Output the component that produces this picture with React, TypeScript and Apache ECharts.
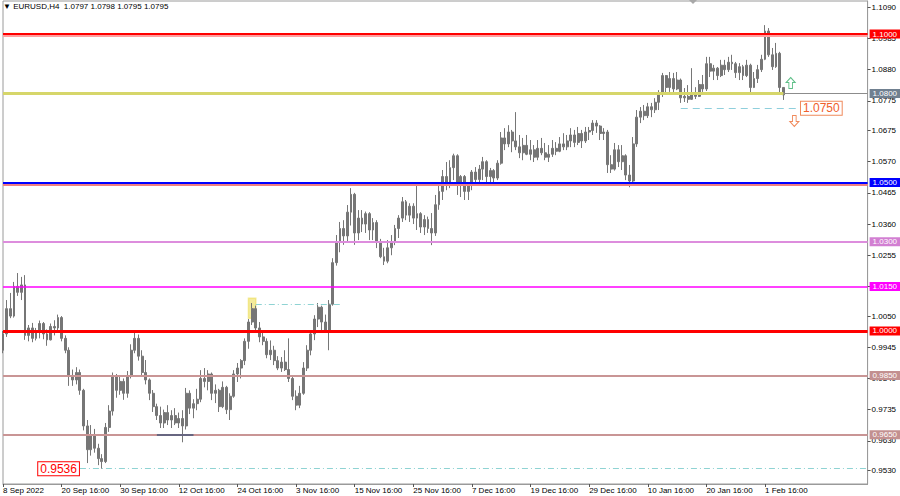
import React, { useEffect, useRef } from 'react';
import * as echarts from 'echarts';

// ---------- data ----------
const chartTitle = '\u25BC EURUSD,H4  1.0797 1.0798 1.0795 1.0795';

// x-axis tick labels, one every 16 half-day bars
const xTickLabels = [
  '8 Sep 2022', '20 Sep 16:00', '30 Sep 16:00', '12 Oct 16:00', '24 Oct 16:00',
  '3 Nov 16:00', '15 Nov 16:00', '25 Nov 16:00', '7 Dec 16:00', '19 Dec 16:00',
  '29 Dec 16:00', '10 Jan 16:00', '20 Jan 16:00', '1 Feb 16:00',
];
const barsPerTick = 16;
const slotCount = 237; // bar slots on the axis (incl. empty space on the right)

// right price-scale labels
const yTickValues = [
  1.109, 1.0985, 1.088, 1.0775, 1.0675, 1.057, 1.0465, 1.036, 1.0255,
  1.015, 1.005, 0.9945, 0.984, 0.9735, 0.963, 0.953,
];

// [open, close, low, high]
const bars: number[][] = [
  [0.9935, 0.9990, 0.9925, 1.0000], [0.9990, 1.0075, 0.9980, 1.0104], [1.0075, 1.0050, 1.0043, 1.0128],
  [1.0050, 1.0150, 1.0045, 1.0165], [1.0150, 1.0130, 1.0118, 1.0195], [1.0130, 1.0155, 1.0104, 1.0182],
  [1.0155, 0.9985, 0.9970, 1.0188], [0.9985, 1.0010, 0.9965, 1.0020], [1.0010, 0.9975, 0.9962, 1.0027],
  [0.9975, 0.9995, 0.9968, 1.0010], [0.9995, 1.0025, 0.9975, 1.0035], [1.0025, 0.9990, 0.9972, 1.0030],
  [0.9990, 0.9970, 0.9950, 1.0005], [0.9970, 1.0015, 0.9968, 1.0025], [1.0015, 1.0010, 0.9985, 1.0036],
  [1.0010, 1.0045, 0.9995, 1.0055], [1.0045, 0.9975, 0.9965, 1.0050], [0.9975, 0.9935, 0.9925, 0.9985],
  [0.9935, 0.9850, 0.9815, 0.9945], [0.9850, 0.9835, 0.9815, 0.9870], [0.9835, 0.9860, 0.9820, 0.9878],
  [0.9860, 0.9800, 0.9785, 0.9870], [0.9800, 0.9680, 0.9665, 0.9805], [0.9680, 0.9600, 0.9555, 0.9700],
  [0.9600, 0.9650, 0.9580, 0.9683], [0.9650, 0.9605, 0.9590, 0.9670], [0.9605, 0.9570, 0.9548, 0.9620],
  [0.9570, 0.9560, 0.9536, 0.9585], [0.9560, 0.9675, 0.9555, 0.9690], [0.9675, 0.9730, 0.9660, 0.9750],
  [0.9730, 0.9845, 0.9715, 0.9860], [0.9845, 0.9800, 0.9775, 0.9855], [0.9800, 0.9830, 0.9785, 0.9850],
  [0.9830, 0.9790, 0.9768, 0.9840], [0.9790, 0.9850, 0.9775, 0.9865], [0.9850, 0.9935, 0.9840, 0.9955],
  [0.9935, 0.9975, 0.9925, 1.0000], [0.9975, 0.9915, 0.9900, 0.9988], [0.9915, 0.9860, 0.9845, 0.9935],
  [0.9860, 0.9835, 0.9820, 0.9902], [0.9835, 0.9790, 0.9767, 0.9840], [0.9790, 0.9745, 0.9727, 0.9801],
  [0.9745, 0.9715, 0.9700, 0.9755], [0.9715, 0.9690, 0.9673, 0.9745], [0.9690, 0.9725, 0.9673, 0.9735],
  [0.9725, 0.9700, 0.9683, 0.9750], [0.9700, 0.9715, 0.9673, 0.9733], [0.9715, 0.9690, 0.9683, 0.9740],
  [0.9690, 0.9705, 0.9673, 0.9725], [0.9705, 0.9680, 0.9625, 0.9733], [0.9680, 0.9790, 0.9668, 0.9808],
  [0.9790, 0.9740, 0.9720, 0.9800], [0.9740, 0.9755, 0.9706, 0.9770], [0.9755, 0.9770, 0.9733, 0.9805],
  [0.9770, 0.9840, 0.9760, 0.9868], [0.9840, 0.9830, 0.9810, 0.9875], [0.9830, 0.9855, 0.9800, 0.9868],
  [0.9855, 0.9790, 0.9767, 0.9860], [0.9790, 0.9800, 0.9757, 0.9820], [0.9800, 0.9745, 0.9727, 0.9805],
  [0.9745, 0.9810, 0.9740, 0.9830], [0.9810, 0.9735, 0.9720, 0.9815], [0.9735, 0.9780, 0.9700, 0.9790],
  [0.9780, 0.9855, 0.9775, 0.9868], [0.9855, 0.9875, 0.9828, 0.9892], [0.9875, 0.9900, 0.9840, 0.9905],
  [0.9900, 0.9965, 0.9885, 0.9975], [0.9965, 1.0030, 0.9940, 1.0040], [1.0030, 1.0075, 1.0020, 1.0094],
  [1.0075, 1.0010, 0.9995, 1.0085], [1.0010, 0.9980, 0.9962, 1.0030], [0.9980, 0.9965, 0.9952, 0.9995],
  [0.9965, 0.9920, 0.9908, 0.9975], [0.9920, 0.9935, 0.9902, 0.9968], [0.9935, 0.9900, 0.9885, 0.9950],
  [0.9900, 0.9875, 0.9868, 0.9915], [0.9875, 0.9895, 0.9862, 0.9912], [0.9895, 0.9870, 0.9865, 0.9935],
  [0.9870, 0.9840, 0.9828, 0.9975], [0.9840, 0.9780, 0.9767, 0.9845], [0.9780, 0.9750, 0.9733, 0.9800],
  [0.9750, 0.9790, 0.9740, 0.9815], [0.9790, 0.9875, 0.9785, 0.9895], [0.9875, 0.9935, 0.9865, 0.9952],
  [0.9935, 0.9990, 0.9918, 1.0003], [0.9990, 1.0040, 0.9969, 1.0053], [1.0040, 1.0080, 1.0013, 1.0094],
  [1.0080, 1.0030, 1.0003, 1.0085], [1.0030, 1.0000, 0.9995, 1.0055], [1.0000, 1.0090, 0.9935, 1.0104],
  [1.0090, 1.0230, 1.0085, 1.0245], [1.0230, 1.0300, 1.0220, 1.0323], [1.0300, 1.0345, 1.0265, 1.0367],
  [1.0345, 1.0320, 1.0290, 1.0373], [1.0320, 1.0400, 1.0300, 1.0424], [1.0400, 1.0460, 1.0355, 1.0481],
  [1.0460, 1.0330, 1.0290, 1.0465], [1.0330, 1.0380, 1.0306, 1.0407], [1.0380, 1.0360, 1.0333, 1.0407],
  [1.0360, 1.0395, 1.0330, 1.0402], [1.0395, 1.0340, 1.0306, 1.0400], [1.0340, 1.0365, 1.0306, 1.0380],
  [1.0365, 1.0300, 1.0279, 1.0373], [1.0300, 1.0250, 1.0245, 1.0310], [1.0250, 1.0235, 1.0222, 1.0280],
  [1.0235, 1.0280, 1.0228, 1.0306], [1.0280, 1.0300, 1.0255, 1.0323], [1.0300, 1.0345, 1.0289, 1.0357],
  [1.0345, 1.0380, 1.0313, 1.0390], [1.0380, 1.0435, 1.0367, 1.0451], [1.0435, 1.0390, 1.0373, 1.0441],
  [1.0390, 1.0420, 1.0367, 1.0430], [1.0420, 1.0380, 1.0360, 1.0430], [1.0380, 1.0395, 1.0340, 1.0491],
  [1.0395, 1.0350, 1.0330, 1.0400], [1.0350, 1.0375, 1.0323, 1.0390], [1.0375, 1.0345, 1.0330, 1.0385],
  [1.0345, 1.0330, 1.0289, 1.0397], [1.0330, 1.0425, 1.0320, 1.0458], [1.0425, 1.0470, 1.0408, 1.0491],
  [1.0470, 1.0520, 1.0441, 1.0542], [1.0520, 1.0490, 1.0474, 1.0569], [1.0490, 1.0550, 1.0481, 1.0575],
  [1.0550, 1.0590, 1.0508, 1.0597], [1.0590, 1.0500, 1.0458, 1.0595], [1.0500, 1.0520, 1.0451, 1.0525],
  [1.0520, 1.0470, 1.0441, 1.0525], [1.0470, 1.0490, 1.0441, 1.0498], [1.0490, 1.0535, 1.0474, 1.0542],
  [1.0535, 1.0510, 1.0491, 1.0552], [1.0510, 1.0545, 1.0498, 1.0559], [1.0545, 1.0570, 1.0508, 1.0586],
  [1.0570, 1.0520, 1.0501, 1.0575], [1.0520, 1.0540, 1.0498, 1.0549], [1.0540, 1.0515, 1.0491, 1.0545],
  [1.0515, 1.0565, 1.0508, 1.0575], [1.0565, 1.0650, 1.0560, 1.0670], [1.0650, 1.0630, 1.0609, 1.0683],
  [1.0630, 1.0670, 1.0619, 1.0693], [1.0670, 1.0640, 1.0602, 1.0677], [1.0640, 1.0620, 1.0609, 1.0737],
  [1.0620, 1.0600, 1.0582, 1.0660], [1.0600, 1.0625, 1.0575, 1.0650], [1.0625, 1.0595, 1.0592, 1.0660],
  [1.0595, 1.0610, 1.0575, 1.0643], [1.0610, 1.0585, 1.0569, 1.0626], [1.0585, 1.0615, 1.0575, 1.0643],
  [1.0615, 1.0600, 1.0592, 1.0650], [1.0600, 1.0585, 1.0575, 1.0633], [1.0585, 1.0595, 1.0569, 1.0626],
  [1.0595, 1.0615, 1.0586, 1.0643], [1.0615, 1.0605, 1.0592, 1.0636], [1.0605, 1.0630, 1.0602, 1.0653],
  [1.0630, 1.0620, 1.0609, 1.0666], [1.0620, 1.0640, 1.0609, 1.0660], [1.0640, 1.0660, 1.0619, 1.0683],
  [1.0660, 1.0635, 1.0619, 1.0677], [1.0635, 1.0665, 1.0626, 1.0687], [1.0665, 1.0640, 1.0616, 1.0677],
  [1.0640, 1.0670, 1.0633, 1.0687], [1.0670, 1.0675, 1.0643, 1.0687], [1.0675, 1.0700, 1.0660, 1.0710],
  [1.0700, 1.0690, 1.0667, 1.0710], [1.0690, 1.0665, 1.0643, 1.0693], [1.0665, 1.0670, 1.0643, 1.0683],
  [1.0670, 1.0560, 1.0532, 1.0677], [1.0560, 1.0545, 1.0532, 1.0592], [1.0545, 1.0610, 1.0540, 1.0633],
  [1.0610, 1.0570, 1.0552, 1.0626], [1.0570, 1.0590, 1.0542, 1.0626], [1.0590, 1.0525, 1.0508, 1.0595],
  [1.0525, 1.0505, 1.0484, 1.0559], [1.0505, 1.0630, 1.0491, 1.0653], [1.0630, 1.0720, 1.0620, 1.0744],
  [1.0720, 1.0740, 1.0700, 1.0754], [1.0740, 1.0725, 1.0710, 1.0761], [1.0725, 1.0755, 1.0717, 1.0768],
  [1.0755, 1.0745, 1.0720, 1.0768], [1.0745, 1.0770, 1.0734, 1.0784], [1.0770, 1.0800, 1.0744, 1.0811],
  [1.0800, 1.0860, 1.0788, 1.0869], [1.0860, 1.0820, 1.0795, 1.0862], [1.0820, 1.0850, 1.0805, 1.0872],
  [1.0850, 1.0815, 1.0801, 1.0869], [1.0815, 1.0845, 1.0811, 1.0872], [1.0845, 1.0785, 1.0768, 1.0850],
  [1.0785, 1.0790, 1.0771, 1.0818], [1.0790, 1.0780, 1.0768, 1.0828], [1.0780, 1.0800, 1.0778, 1.0885],
  [1.0800, 1.0790, 1.0781, 1.0821], [1.0790, 1.0830, 1.0788, 1.0845], [1.0830, 1.0815, 1.0805, 1.0862],
  [1.0815, 1.0900, 1.0808, 1.0923], [1.0900, 1.0875, 1.0855, 1.0923], [1.0875, 1.0885, 1.0845, 1.0896],
  [1.0885, 1.0860, 1.0845, 1.0889], [1.0860, 1.0895, 1.0855, 1.0913], [1.0895, 1.0880, 1.0862, 1.0913],
  [1.0880, 1.0905, 1.0872, 1.0923], [1.0905, 1.0900, 1.0879, 1.0930], [1.0900, 1.0870, 1.0852, 1.0906],
  [1.0870, 1.0890, 1.0845, 1.0902], [1.0890, 1.0860, 1.0845, 1.0896], [1.0860, 1.0895, 1.0855, 1.0913],
  [1.0895, 1.0820, 1.0801, 1.0900], [1.0820, 1.0850, 1.0818, 1.0872], [1.0850, 1.0880, 1.0835, 1.0896],
  [1.0880, 1.0915, 1.0872, 1.0930], [1.0915, 1.1010, 1.0912, 1.1030], [1.1010, 1.0930, 1.0923, 1.1020],
  [1.0930, 1.0890, 1.0879, 1.0953], [1.0890, 1.0935, 1.0886, 1.0970], [1.0935, 1.0820, 1.0801, 1.0940],
  [1.0820, 1.0795, 1.0778, 1.0820],
];

// horizontal levels
const levelPrices = [1.1, 1.08, 1.05, 1.03, 1.015, 1.0, 0.985, 0.965];

// annotations (bar index, price)
const lowPrice = 0.9536;
const lowLineFrom = 21;
const targetPrice = 1.075;
const targetFrom = 185;
const targetTo = 217;
const octHigh = 1.009;
const octHighFrom = 69;
const octHighTo = 92;
const octHighBox = [[67, 1.011], [69, 1.0043]];
const supportSeg = { from: 42, to: 52, price: 0.965 };
const trendPrice = 1.08;
const upArrow = [215, 1.0835];
const downArrow = [216, 1.0707];

// ---------- styles ----------
const FONT = '"Liberation Sans", Arial, sans-serif';
const BAR = '#767676';
const Y_MIN = 0.94845;
const Y_MAX = 1.11112;
const levelStyles = [
  { color: '#ff0000', width: 2, tag: '#ff0000', shade: '#ffa0a0', shadeOffset: 0.0005 },
  { color: '#8c8c8c', width: 1, tag: '#708090' },
  { color: '#0000ff', width: 2, tag: '#0000ff', shade: '#f08080', shadeOffset: 0.00065 },
  { color: '#dd8ddd', width: 2, tag: '#d27fd2' },
  { color: '#ff00ff', width: 1.5, tag: '#ff00ff' },
  { color: '#ff0000', width: 3, tag: '#ff0000' },
  { color: '#c99595', width: 2, tag: '#c39090' },
  { color: '#c99595', width: 2, tag: '#c39090' },
];

export default function App() {
  const ref = useRef<HTMLDivElement>(null);

  useEffect(() => {
    if (!ref.current) return;
    const chart = echarts.init(ref.current, null, { renderer: 'svg', width: 900, height: 496 });

    const categories = Array.from({ length: slotCount }, (_, i) =>
      i % barsPerTick === 0 && xTickLabels[i / barsPerTick] ? xTickLabels[i / barsPerTick] : ''
    );
    const isTick = (idx: number) => categories[idx] !== '';

    const shadeLines: any[] = [];
    levelPrices.forEach((v, k) => {
      const s: any = levelStyles[k];
      if (s.shade) {
        shadeLines.push({
          yAxis: v - s.shadeOffset,
          lineStyle: { color: s.shade, width: 2, type: 'solid' },
          label: { show: false },
        });
      }
    });

    const levelLines = levelPrices.map((v, k) => {
      const s = levelStyles[k];
      return {
        yAxis: v,
        lineStyle: { color: s.color, width: s.width, type: 'solid' },
        label: {
          show: true, position: 'end', formatter: v.toFixed(4), distance: 2,
          color: '#fff', backgroundColor: s.tag, fontSize: 8, fontFamily: FONT,
          padding: [1, 3, 0, 3], lineHeight: 8,
        },
      };
    });

    const segLines: any[] = [
      [
        { coord: [0, trendPrice], lineStyle: { color: '#d6d66a', width: 3, type: 'solid' } },
        { coord: [bars.length - 1, trendPrice] },
      ],
      [
        { coord: [octHighFrom, octHigh], lineStyle: { color: '#8fd3d3', width: 1, type: [6, 3, 1, 3] } },
        { coord: [octHighTo, octHigh] },
      ],
      [
        { coord: [supportSeg.from, supportSeg.price], lineStyle: { color: '#46577a', width: 1.5, type: 'solid' } },
        { coord: [supportSeg.to, supportSeg.price] },
      ],
      [
        {
          coord: [lowLineFrom, lowPrice],
          lineStyle: { color: '#8fd3d3', width: 1, type: [6, 3, 1, 3] },
          label: {
            show: true, position: 'start', formatter: lowPrice.toFixed(4), distance: 1,
            color: '#ff0000', backgroundColor: '#fff', borderColor: '#ff0000', borderWidth: 1,
            padding: [1, 2, 0, 2], fontSize: 12, fontFamily: FONT,
          },
        },
        { coord: [slotCount - 1, lowPrice] },
      ],
      [
        {
          coord: [targetFrom, targetPrice],
          lineStyle: { color: '#8fcfdc', width: 1, type: [7, 5] },
          label: {
            show: true, position: 'end', formatter: targetPrice.toFixed(4), distance: 3,
            color: '#f0602c', backgroundColor: '#fff', borderColor: '#f08a5c', borderWidth: 1,
            padding: [1, 2, 0, 2], fontSize: 12, fontFamily: FONT,
          },
        },
        { coord: [targetTo, targetPrice] },
      ],
    ];

    const option: any = {
      animation: false,
      backgroundColor: '#ffffff',
      title: {
        text: chartTitle, left: 3, top: 2, padding: 0,
        textStyle: { fontSize: 8, fontWeight: 'normal', color: '#000', fontFamily: FONT },
      },
      grid: {
        left: 2, right: 32.4, top: 1, bottom: 12,
        show: true, borderColor: '#9a9a9a', borderWidth: 1, backgroundColor: '#fff',
      },
      xAxis: {
        type: 'category',
        data: categories,
        boundaryGap: false,
        axisLine: { show: true, lineStyle: { color: '#9a9a9a' } },
        axisTick: { show: true, length: 3, interval: (i: number) => isTick(i), lineStyle: { color: '#555' } },
        axisLabel: {
          interval: (i: number) => isTick(i), align: 'left', margin: 2,
          fontSize: 8, color: '#000', fontFamily: FONT,
        },
        splitLine: { show: false },
      },
      yAxis: {
        type: 'value',
        position: 'right',
        min: Y_MIN,
        max: Y_MAX,
        scale: true,
        axisLine: { show: true, lineStyle: { color: '#9a9a9a' } },
        axisTick: { show: true, length: 3, customValues: yTickValues, lineStyle: { color: '#555' } },
        axisLabel: {
          customValues: yTickValues, formatter: (v: number) => v.toFixed(4),
          fontSize: 8, color: '#000', fontFamily: FONT, margin: 4,
        },
        splitLine: { show: false },
      },
      graphic: [
        { type: 'polygon', shape: { points: [[689, 0], [697, 0], [693, 4]] }, style: { fill: '#a8a8a8' }, silent: true },
      ],
      series: [
        {
          type: 'candlestick',
          data: bars,
          barWidth: 2.4,
          itemStyle: { color: BAR, color0: BAR, borderColor: BAR, borderColor0: BAR, borderWidth: 1 },
          markArea: {
            silent: true,
            itemStyle: { color: 'rgba(236,222,90,0.6)', borderColor: 'rgba(236,222,90,0.6)', borderWidth: 1.5 },
            data: [[{ coord: octHighBox[0] }, { coord: octHighBox[1] }]],
          },
          markLine: {
            silent: true,
            precision: 5,
            symbol: ['none', 'none'],
            label: { show: false },
            data: [...shadeLines, ...levelLines, ...segLines],
          },
          markPoint: {
            silent: true,
            label: { show: false },
            data: [
              {
                coord: upArrow, symbol: 'path://M5,0L10,5L7,5L7,11L3,11L3,5L0,5Z', symbolSize: [9, 11],
                itemStyle: { color: '#fff', borderColor: '#5fbf88', borderWidth: 1 },
              },
              {
                coord: downArrow, symbol: 'path://M3,0L7,0L7,6L10,6L5,11L0,6L3,6Z', symbolSize: [9, 11],
                itemStyle: { color: '#fff', borderColor: '#f08a5c', borderWidth: 1 },
              },
            ],
          },
        },
      ],
    };

    chart.setOption(option);
    return () => chart.dispose();
  }, []);

  return (
    <div
      ref={ref}
      style={{ position: 'fixed', left: 0, top: 0, width: 900, height: 496, background: '#fff' }}
    />
  );
}
